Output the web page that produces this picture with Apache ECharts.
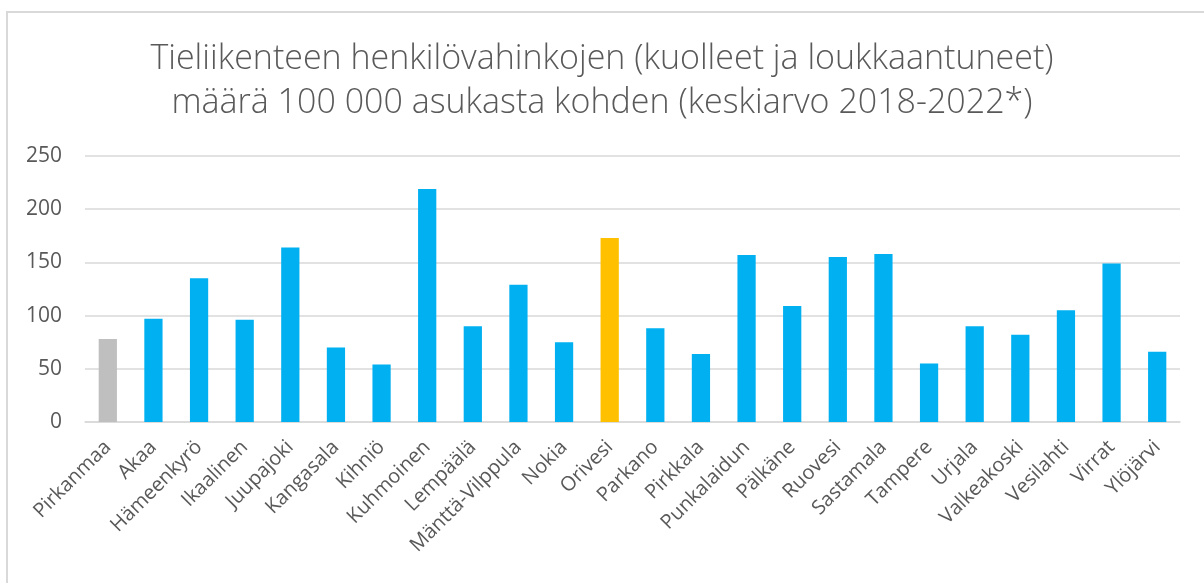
<!DOCTYPE html>
<html lang="fi">
<head>
<meta charset="UTF-8">
<title>Tieliikenteen henkilövahingot</title>
<script src="https://cdn.jsdelivr.net/npm/echarts@6/dist/echarts.min.js"></script>
<style>
    body { margin: 0; padding: 0; background: #fff; overflow: hidden; }
    #frame {
        position: absolute; left: 6px; top: 11px;
        width: 1300px; height: 700px;
        border: 2px solid #d9d9d9;
    }
    #chart { position: absolute; left: 0; top: 0; width: 1204px; height: 583px; }
</style>
</head>
<body>
<div id="frame"></div>
<div id="chart"></div>
<script>
    var municipalities = ['Pirkanmaa', 'Akaa', 'Hämeenkyrö', 'Ikaalinen', 'Juupajoki', 'Kangasala',
        'Kihniö', 'Kuhmoinen', 'Lempäälä', 'Mänttä-Vilppula', 'Nokia', 'Orivesi', 'Parkano',
        'Pirkkala', 'Punkalaidun', 'Pälkäne', 'Ruovesi', 'Sastamala', 'Tampere', 'Urjala',
        'Valkeakoski', 'Vesilahti', 'Virrat', 'Ylöjärvi'];
    var injuries = [78, 97, 135, 96, 164, 70, 54, 219, 90, 129, 75, 173, 88, 64, 157, 109,
        155, 158, 55, 90, 82, 105, 149, 66];
    var yTicks = [0, 50, 100, 150, 200, 250];

    var colorFor = function (name) {
        if (name === 'Pirkanmaa') return '#BFBFBF';
        if (name === 'Orivesi') return '#FFC000';
        return '#00B0F0';
    };

    var chart = echarts.init(document.getElementById('chart'));
    chart.setOption({
        animation: false,
        title: {
            text: 'Tieliikenteen henkilövahinkojen (kuolleet ja loukkaantuneet)\nmäärä 100 000 asukasta kohden (keskiarvo 2018-2022*)',
            left: 'center',
            top: 32,
            textStyle: {
                fontFamily: 'Open Sans',
                fontWeight: 300,
                fontSize: 34,
                lineHeight: 44,
                color: '#595959'
            }
        },
        grid: { left: 85, right: 24, top: 156, bottom: 161, containLabel: false },
        xAxis: {
            type: 'category',
            data: municipalities,
            axisTick: { show: false },
            axisLine: { lineStyle: { color: '#d9d9d9', width: 1.5 } },
            axisLabel: {
                interval: 0,
                rotate: 45,
                margin: 22,
                fontFamily: 'Open Sans',
                fontSize: 20,
                color: '#595959'
            }
        },
        yAxis: {
            type: 'value',
            min: yTicks[0],
            max: yTicks[yTicks.length - 1],
            interval: 50,
            axisLine: { show: false },
            axisTick: { show: false },
            splitLine: { lineStyle: { color: '#d9d9d9', width: 1.5 } },
            axisLabel: {
                margin: 23,
                fontFamily: 'Open Sans',
                fontSize: 21,
                color: '#595959'
            }
        },
        series: [{
            type: 'bar',
            barWidth: '40%',
            data: municipalities.map(function (m, i) {
                return { value: injuries[i], itemStyle: { color: colorFor(m) } };
            })
        }]
    });
</script>
</body>
</html>
